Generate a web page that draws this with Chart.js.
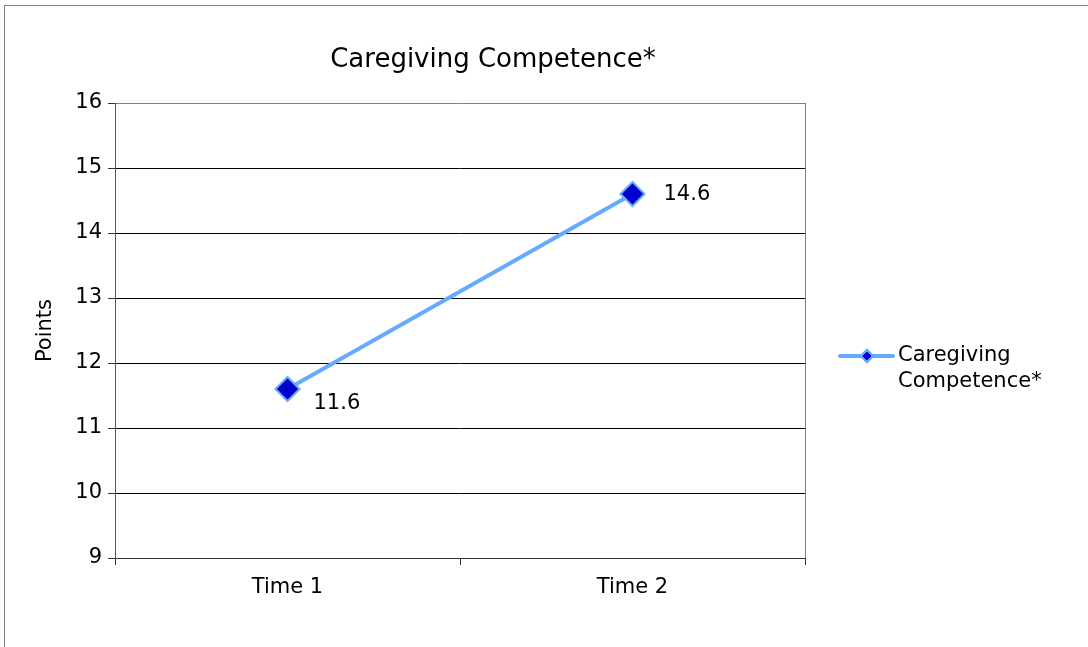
<!DOCTYPE html>
<html>
<head>
<meta charset="utf-8">
<script src="https://cdn.jsdelivr.net/npm/chart.js@4.4.0/dist/chart.umd.min.js"></script>
<style>
  html, body { margin: 0; padding: 0; background: #fff; }
  canvas { display: block; }
</style>
</head>
<body>
<canvas id="competenceChart" width="1088" height="647"></canvas>
<script>
// Chart data
const categories = ['Time 1', 'Time 2'];
const seriesName = 'Caregiving Competence*';
const legendLines = ['Caregiving', 'Competence*'];
const competenceValues = [11.6, 14.6];
const yTicks = [9, 10, 11, 12, 13, 14, 15, 16];

const FONT = 'DejaVu Sans, Verdana, sans-serif';
const lineColor = '#66aaff';
const markerFill = '#0000cc';

// where each value label sits relative to its point
const labelOffsets = [{ dx: 26, dy: 15 }, { dx: 31, dy: 1 }];

// outer frame, title, plot border, value labels and legend
const decorPlugin = {
    id: 'decor',
    beforeDraw(chart) {
        const ctx = chart.ctx;
        ctx.save();
        ctx.fillStyle = '#fff';
        ctx.fillRect(0, 0, chart.width, chart.height);
        ctx.strokeStyle = '#808080';
        ctx.lineWidth = 1;
        ctx.strokeRect(4.5, 5.5, chart.width + 20, chart.height + 20);
        ctx.restore();
    },
    beforeDatasetsDraw(chart) {
        const { ctx, chartArea: a } = chart;
        ctx.save();
        ctx.strokeStyle = '#808080';
        ctx.lineWidth = 1;
        ctx.beginPath();
        ctx.moveTo(Math.round(a.right) + 0.5, a.top);
        ctx.lineTo(Math.round(a.right) + 0.5, a.bottom);
        ctx.stroke();
        ctx.restore();
    },
    afterDatasetsDraw(chart) {
        const ctx = chart.ctx;
        const meta = chart.getDatasetMeta(0);
        ctx.save();
        ctx.fillStyle = '#000';
        ctx.font = '21px ' + FONT;
        ctx.textAlign = 'left';
        ctx.textBaseline = 'middle';
        meta.data.forEach((pt, i) => {
            const off = labelOffsets[i];
            ctx.fillText(competenceValues[i].toFixed(1), pt.x + off.dx, pt.y + off.dy);
        });

        // title
        ctx.textAlign = 'center';
        ctx.font = '26px ' + FONT;
        ctx.fillText(seriesName, 493, 60);

        // legend
        const ds = chart.data.datasets[0];
        const ly = 356;
        ctx.strokeStyle = ds.borderColor;
        ctx.lineWidth = ds.borderWidth;
        ctx.lineCap = 'round';
        ctx.beginPath();
        ctx.moveTo(840, ly);
        ctx.lineTo(893, ly);
        ctx.stroke();
        Chart.helpers.drawPoint(ctx, {
            pointStyle: 'rectRot', radius: 5, borderWidth: 1, rotation: 0
        }, 867, ly);
        ctx.fillStyle = ds.pointBackgroundColor;
        ctx.strokeStyle = ds.pointBorderColor;
        ctx.lineWidth = 1;
        ctx.fill();
        ctx.stroke();
        ctx.fillStyle = '#000';
        ctx.textAlign = 'left';
        ctx.font = '21px ' + FONT;
        legendLines.forEach((t, i) => ctx.fillText(t, 898, ly + i * 26));
        ctx.restore();
    }
};

const ctx = document.getElementById('competenceChart').getContext('2d');
new Chart(ctx, {
    type: 'line',
    data: {
        labels: categories,
        datasets: [{
            label: seriesName,
            data: competenceValues,
            borderColor: lineColor,
            borderWidth: 4,
            pointStyle: 'rectRot',
            pointRadius: 12,
            pointHoverRadius: 12,
            pointBackgroundColor: markerFill,
            pointBorderColor: lineColor,
            pointBorderWidth: 2,
            tension: 0,
            fill: false
        }]
    },
    options: {
        responsive: false,
        animation: false,
        events: [],
        layout: { padding: { top: 103, right: 283, left: 30, bottom: 0 } },
        plugins: {
            legend: { display: false },
            title: { display: false },
            tooltip: { enabled: false }
        },
        scales: {
            x: {
                offset: true,
                afterFit(scale) { scale.height = 89; },
                grid: {
                    offset: true,
                    drawOnChartArea: false,
                    tickLength: 7,
                    tickColor: '#333'
                },
                border: { color: '#333', width: 1 },
                ticks: {
                    color: '#000',
                    padding: 10,
                    font: { family: FONT, size: 21 }
                }
            },
            y: {
                min: yTicks[0],
                max: yTicks[yTicks.length - 1],
                afterFit(scale) { scale.width = 85; },
                afterBuildTicks(scale) {
                    scale.ticks = yTicks.map(v => ({ value: v }));
                },
                grid: {
                    color: c => (c.tick && c.tick.value === 16 ? '#808080' : '#000'),
                    tickLength: 7,
                    tickColor: '#333'
                },
                border: { color: '#555', width: 1 },
                ticks: {
                    color: '#000',
                    padding: 6,
                    font: { family: FONT, size: 21 }
                },
                title: {
                    display: true,
                    text: 'Points',
                    color: '#000',
                    padding: { top: 3, bottom: 0 },
                    font: { family: FONT, size: 21 }
                }
            }
        }
    },
    plugins: [decorPlugin]
});
</script>
</body>
</html>
